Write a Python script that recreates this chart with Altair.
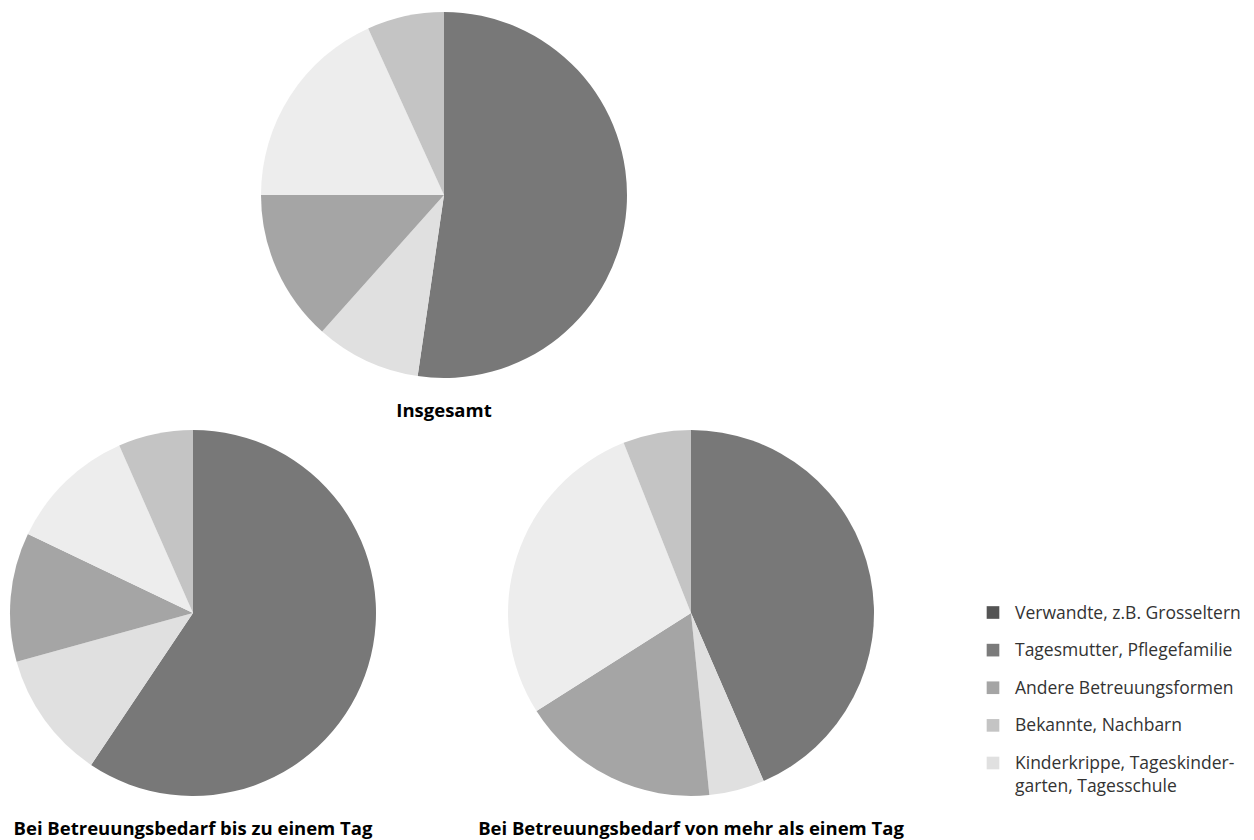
import altair as alt
import pandas as pd

# ---- data ----
pie_kategorien = [
    "Verwandte, z.B. Grosseltern",
    "Tagesmutter, Pflegefamilie",
    "Andere Betreuungsformen",
    "Kinderkrippe, Tageskindergarten, Tagesschule",
    "Bekannte, Nachbarn",
]
insgesamt = [52.3, 9.3, 13.4, 18.2, 6.8]
bis_ein_tag = [59.4, 11.3, 11.4, 11.3, 6.6]
mehr_als_ein_tag = [43.5, 4.9, 17.6, 28.0, 6.0]
pie_farben = ["#787878", "#e0e0e0", "#a5a5a5", "#ededed", "#c4c4c4"]

titel = [
    "Insgesamt",
    "Bei Betreuungsbedarf bis zu einem Tag",
    "Bei Betreuungsbedarf von mehr als einem Tag",
]

legend_labels = [
    "Verwandte, z.B. Grosseltern",
    "Tagesmutter, Pflegefamilie",
    "Andere Betreuungsformen",
    "Bekannte, Nachbarn",
    "Kinderkrippe, Tageskinder-\ngarten, Tagesschule",
]
legend_farben = ["#545454", "#7b7b7b", "#a5a5a5", "#c4c4c4", "#e0e0e0"]

FONT = "Open Sans"
SIZE = 366


def pie(values, title, width=SIZE):
    df = pd.DataFrame({
        "Kategorie": pie_kategorien,
        "Anteil": values,
        "Nr": list(range(len(values))),
    })
    return (
        alt.Chart(df)
        .mark_arc(strokeWidth=0)
        .encode(
            theta=alt.Theta("Anteil:Q", stack=True),
            color=alt.Color(
                "Kategorie:N",
                scale=alt.Scale(domain=pie_kategorien, range=pie_farben),
                legend=None,
            ),
            order=alt.Order("Nr:Q", sort="ascending"),
            tooltip=["Kategorie:N", "Anteil:Q"],
        )
        .properties(
            width=width,
            height=SIZE,
            title=alt.TitleParams(
                text=title,
                orient="bottom",
                anchor="middle",
                baseline="top",
                offset=24,
                font=FONT,
                fontSize=18.5,
                fontWeight="bold",
                color="#000000",
            ),
        )
    )


# top pie spans the width of both lower pies, so it sits centred above them
top = pie(insgesamt, titel[0], width=868)
bl = pie(bis_ein_tag, titel[1])
br = pie(mehr_als_ein_tag, titel[2])

legend_df = pd.DataFrame({
    "Label": legend_labels,
    "Farbe": legend_farben,
    "Nr": list(range(len(legend_labels))),
})
lbase = alt.Chart(legend_df).encode(
    y=alt.Y("Nr:O", axis=None, scale=alt.Scale(range=[182.5, 333], padding=0))
)
squares = lbase.mark_square(size=160, opacity=1).encode(
    x=alt.value(-13),
    color=alt.Color("Farbe:N", scale=None),
)
texts = lbase.mark_text(
    align="left",
    baseline="alphabetic",
    dy=6,
    lineBreak="\n",
    lineHeight=23,
    font=FONT,
    fontSize=17.5,
    color="#333333",
).encode(x=alt.value(9), text="Label:N")
legend_chart = alt.layer(squares, texts).properties(width=220, height=SIZE)

bottom_row = alt.hconcat(bl, br, legend_chart, spacing=132, bounds="flush")

chart = (
    alt.vconcat(top, bottom_row, spacing=9)
    .resolve_scale(color="independent")
    .properties(padding={"left": 2, "top": 4, "right": 0, "bottom": 0})
    .configure_view(stroke=None)
)

chart.save("out.html", embed_options={"renderer": "svg", "actions": False})
